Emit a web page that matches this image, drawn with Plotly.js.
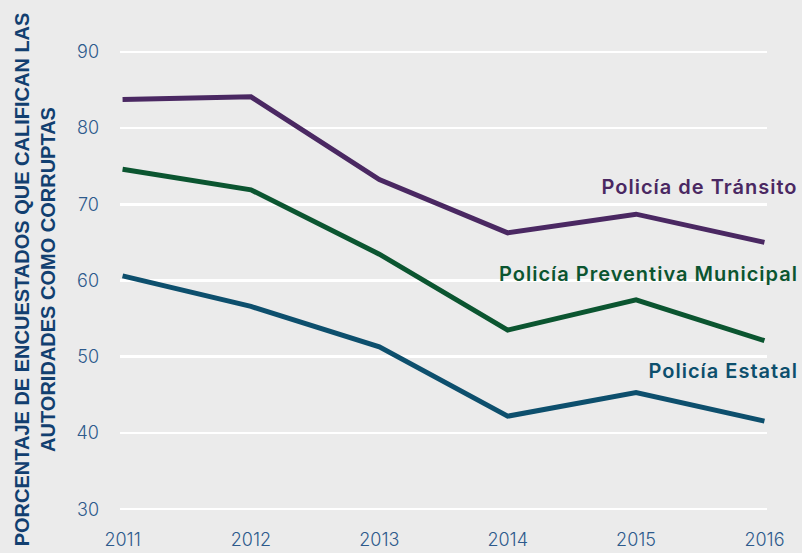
<!DOCTYPE html>
<html>
<head>
<meta charset="utf-8">
<script src="https://cdn.plot.ly/plotly-3.0.1.min.js"></script>
<style>
html,body{margin:0;padding:0;background:#ebebeb;}
#chart{width:802px;height:553px;}
g.annotation[data-index="0"] text,
g.annotation[data-index="1"] text,
g.annotation[data-index="2"] text{letter-spacing:1px;}
</style>
</head>
<body>
<div id="chart"></div>
<script>
const years = [2011, 2012, 2013, 2014, 2015, 2016];
const transito = [83.75, 84.1, 73.25, 66.25, 68.7, 65.0];
const preventiva = [74.6, 71.9, 63.45, 53.5, 57.45, 52.1];
const estatal = [60.6, 56.6, 51.3, 42.2, 45.3, 41.55];
const seriesNames = ["Policía de Tránsito", "Policía Preventiva Municipal", "Policía Estatal"];
const yTicks = [30, 40, 50, 60, 70, 80, 90];
const yTitle = "PORCENTAJE DE ENCUESTADOS QUE CALIFICAN LAS<br>AUTORIDADES COMO CORRUPTAS";

const colors = ["#4a2862", "#0b5530", "#0d4f6d"];
const allSeries = [transito, preventiva, estatal];
const LS = 1; // css letter-spacing (px) applied to series labels

const traces = allSeries.map((vals, i) => ({
  x: years, y: vals, type: "scatter", mode: "lines",
  name: seriesNames[i],
  line: {color: colors[i], width: 5, shape: "linear"},
  hoverinfo: "x+y+name"
}));

const labelY = [0.701, 0.514, 0.3056];
const annotations = seriesNames.map((t, i) => ({
  text: t, xref: "paper", yref: "paper", x: 1.0502, y: labelY[i],
  xanchor: "right", yanchor: "middle", showarrow: false,
  xshift: -(t.length * LS) / 2 + 0.5,
  font: {family: "Inter, 'Noto Sans', sans-serif", size: 20, weight: 600, color: colors[i]}
}));
annotations.push({
  text: yTitle, xref: "paper", yref: "paper", x: -0.131, y: 0.503,
  xanchor: "center", yanchor: "middle", showarrow: false, textangle: -90, align: "center",
  font: {family: "'Liberation Sans', Arial, sans-serif", size: 20, weight: 700, color: "#123f70"}
});

const layout = {
  width: 802, height: 553,
  paper_bgcolor: "#ebebeb", plot_bgcolor: "#ebebeb",
  margin: {l: 120.4, r: 34.5, t: 47.9, b: 39.9, pad: 0},
  showlegend: false,
  xaxis: {
    range: [2010.98, 2016.02], tickvals: years, ticktext: years.map(String),
    showgrid: false, zeroline: false, showline: false,
    ticks: "", ticklabelstandoff: 14,
    tickfont: {family: "Inter, sans-serif", size: 18, weight: 300, color: "#2d5a8c"}
  },
  yaxis: {
    range: [29.5, 90.5], tickvals: yTicks,
    showgrid: true, gridcolor: "#ffffff", gridwidth: 2.5,
    zeroline: false, showline: false, ticks: "", ticklabelstandoff: 20,
    tickfont: {family: "Inter, sans-serif", size: 18, weight: 300, color: "#2d5a8c"}
  },
  annotations: annotations
};

Plotly.newPlot("chart", traces, layout, {staticPlot: true, displayModeBar: false});
</script>
</body>
</html>
